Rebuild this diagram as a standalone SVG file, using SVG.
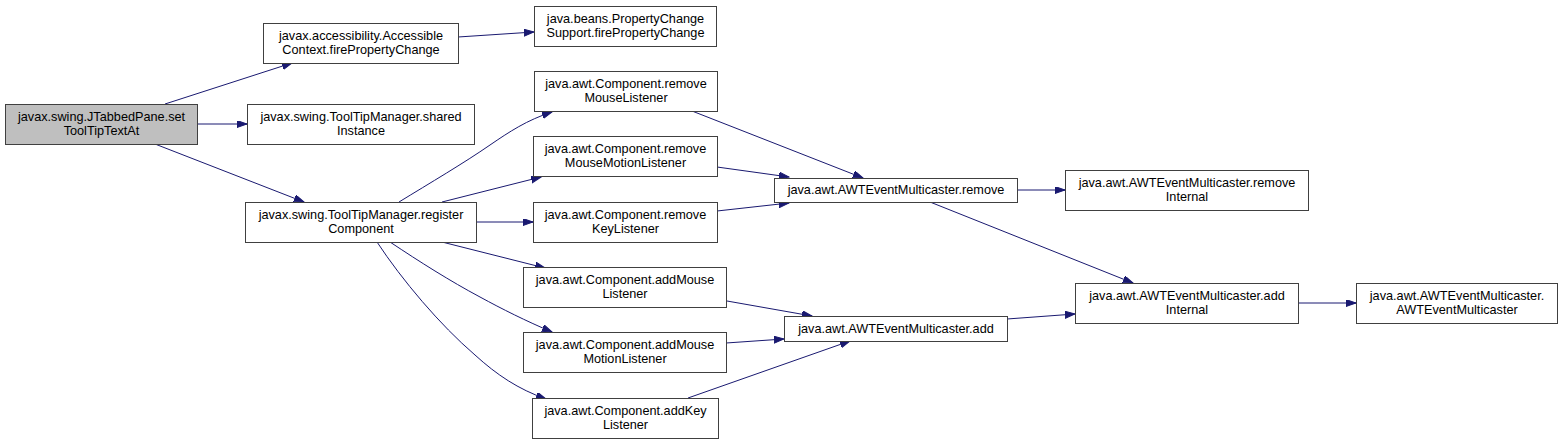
<svg xmlns="http://www.w3.org/2000/svg" width="1563" height="444" viewBox="0 0 1563 444">
<style>
.box{fill:#ffffff;stroke:#404040;stroke-width:1}
.root{fill:#bfbfbf;stroke:#404040;stroke-width:1}
text{font-family:"Liberation Sans",Arial,sans-serif;font-size:12.7px;fill:#000000;text-anchor:middle}
.edge{fill:none;stroke:#191970;stroke-width:1;marker-end:url(#arr)}
</style>
<defs>
<marker id="arr" markerUnits="userSpaceOnUse" markerWidth="11" markerHeight="8" refX="10" refY="3.5" orient="auto">
<path d="M0,0 L10,3.5 L0,7 z" fill="#191970" stroke="#191970" stroke-width="1"/>
</marker>
</defs>
<rect width="1563" height="444" fill="#ffffff"/>
<g id="edges">
<path class="edge" d="M165,104 L292,63"/>
<path class="edge" d="M197,124 L247,124"/>
<path class="edge" d="M155,144 L304,202"/>
<path class="edge" d="M458,37 L534,32"/>
<path class="edge" d="M399,202 C430,183 464,163 490,145 C509,132 527,120 552,112"/>
<path class="edge" d="M442,202 L541,177"/>
<path class="edge" d="M476,222 L533,222"/>
<path class="edge" d="M442,242 L545,268"/>
<path class="edge" d="M390,242 C420,262 450,281 480,297 C502,309 526,321 552,332"/>
<path class="edge" d="M377,242 C402,280 440,325 475,355 C497,375 518,389 546,399"/>
<path class="edge" d="M692,111 L863,178"/>
<path class="edge" d="M717,167 L789,177"/>
<path class="edge" d="M717,211 L789,203"/>
<path class="edge" d="M1017,190 L1065,190"/>
<path class="edge" d="M930,202 L1133,283"/>
<path class="edge" d="M727,301 L812,316"/>
<path class="edge" d="M726,343 L784,339"/>
<path class="edge" d="M688,398 L850,341"/>
<path class="edge" d="M1007,319 L1075,314"/>
<path class="edge" d="M1298,303 L1356,303"/>
</g>
<g id="n1"><rect class="root" x="5.5" y="104.5" width="192" height="40"/><text x="101.5" y="121">javax.swing.JTabbedPane.set</text><text x="101.5" y="135">ToolTipTextAt</text></g>
<g id="n2"><rect class="box" x="263.5" y="23.5" width="195" height="40"/><text x="361" y="40">javax.accessibility.Accessible</text><text x="361" y="54">Context.firePropertyChange</text></g>
<g id="n3"><rect class="box" x="247.5" y="104.5" width="227" height="40"/><text x="361" y="121">javax.swing.ToolTipManager.shared</text><text x="361" y="135">Instance</text></g>
<g id="n4"><rect class="box" x="245.5" y="202.5" width="231" height="40"/><text x="361" y="219">javax.swing.ToolTipManager.register</text><text x="361" y="233">Component</text></g>
<g id="n5"><rect class="box" x="534.5" y="6.5" width="182" height="40"/><text x="625.5" y="23">java.beans.PropertyChange</text><text x="625.5" y="37">Support.firePropertyChange</text></g>
<g id="n6"><rect class="box" x="534.5" y="71.5" width="183" height="40"/><text x="626" y="88">java.awt.Component.remove</text><text x="626" y="102">MouseListener</text></g>
<g id="n7"><rect class="box" x="533.5" y="136.5" width="184" height="40"/><text x="625.5" y="153">java.awt.Component.remove</text><text x="625.5" y="167">MouseMotionListener</text></g>
<g id="n8"><rect class="box" x="533.5" y="202.5" width="184" height="40"/><text x="625.5" y="219">java.awt.Component.remove</text><text x="625.5" y="233">KeyListener</text></g>
<g id="n9"><rect class="box" x="523.5" y="267.5" width="203" height="40"/><text x="625" y="284">java.awt.Component.addMouse</text><text x="625" y="298">Listener</text></g>
<g id="n10"><rect class="box" x="523.5" y="332.5" width="203" height="40"/><text x="625" y="349">java.awt.Component.addMouse</text><text x="625" y="363">MotionListener</text></g>
<g id="n11"><rect class="box" x="532.5" y="398.5" width="186" height="40"/><text x="625.5" y="415">java.awt.Component.addKey</text><text x="625.5" y="429">Listener</text></g>
<g id="n12"><rect class="box" x="774.5" y="178.5" width="243" height="24"/><text x="896" y="194">java.awt.AWTEventMulticaster.remove</text></g>
<g id="n13"><rect class="box" x="784.5" y="316.5" width="223" height="25"/><text x="896" y="333">java.awt.AWTEventMulticaster.add</text></g>
<g id="n14"><rect class="box" x="1065.5" y="170.5" width="243" height="40"/><text x="1187" y="187">java.awt.AWTEventMulticaster.remove</text><text x="1187" y="201">Internal</text></g>
<g id="n15"><rect class="box" x="1075.5" y="283.5" width="223" height="40"/><text x="1187" y="300">java.awt.AWTEventMulticaster.add</text><text x="1187" y="314">Internal</text></g>
<g id="n16"><rect class="box" x="1356.5" y="283.5" width="201" height="40"/><text x="1457" y="300">java.awt.AWTEventMulticaster.</text><text x="1457" y="314">AWTEventMulticaster</text></g>
</svg>
